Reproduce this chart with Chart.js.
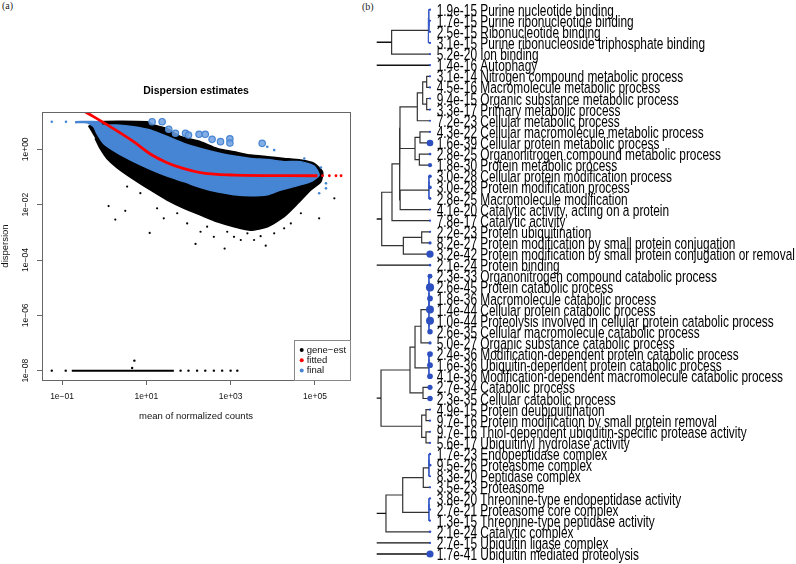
<!DOCTYPE html>
<html>
<head>
<meta charset="utf-8">
<script src="https://cdn.jsdelivr.net/npm/chart.js@4.4.0/dist/chart.umd.min.js"></script>
<style>
  html, body { margin: 0; padding: 0; background: #fff; }
  #wrap { position: relative; width: 796px; height: 564px; overflow: hidden; background: #fff; }
  #dispChart { position: absolute; left: 0; top: 0; }
  #dendroChart { position: absolute; left: 360px; top: 0; }
  .tag { position: absolute; font-family: "Liberation Serif", "Times New Roman", serif; font-size: 10px; color: #222; }
</style>
</head>
<body>
<div id="wrap">
  <div class="tag" style="left:2px;top:0px">(a)</div>
  <div class="tag" style="left:362px;top:1px">(b)</div>
  <canvas id="dispChart" width="360" height="430"></canvas>
  <canvas id="dendroChart" width="436" height="564"></canvas>
</div>
<script>
// ---------- (a) dispersion estimates ----------
const xTicks = [0.1, 10, 1000, 100000];
const xTickLabels = ['1e\u221201', '1e+01', '1e+03', '1e+05'];
const yTicks = [1e-8, 1e-6, 1e-4, 1e-2, 1];
const yTickLabels = ['1e\u221208', '1e\u221206', '1e\u221204', '1e\u221202', '1e+00'];

// outline of the dense black gene-est cloud: upper edge left->right, lower edge back
const geneCloudX = [0.42, 0.67, 10.4, 15, 31, 65, 193, 480, 1200, 3000, 7500, 18600, 46000, 96000, 152000,
  139000, 80000, 39000, 18600, 7500, 3000, 1200, 480, 193, 78, 31, 12.4, 5.0, 2.0, 1.16, 0.80, 0.61];
const geneCloudY = [6.6, 10, 10, 7.6, 5.7, 2.9, 1.89, 1.08, 0.82, 0.62, 0.54, 0.47, 0.41, 0.31, 0.155,
  0.068, 0.034, 0.011, 0.0037, 0.0016, 0.0012, 0.0016, 0.0024, 0.0042, 0.0074, 0.0147, 0.034, 0.082, 0.22, 0.47, 1.08, 2.5];

// loose black points below the cloud
const geneSpreadX = [1.27, 1.83, 3.16, 12, 25.9, 147, 720, 6800, 126000, 289000, 277, 400, 1200, 1740, 3600,
  5150, 10800, 18600, 26800, 46400, 54, 93, 193, 18, 7.2, 3.5, 2500, 830];
const geneSpreadY = [0.0089, 0.0029, 0.006, 0.00095, 0.0032, 0.00038, 0.00026, 0.00033, 0.0032, 0.017, 0.0016, 0.00069, 0.00069, 0.00053, 0.00053,
  0.00073, 0.00092, 0.0014, 0.0021, 0.0049, 0.0049, 0.0021, 0.00105, 0.0074, 0.026, 0.045, 0.00092, 0.00105];

// genes with zero dispersion, plotted at the floor
const floorLineX = [0.17, 45];
const floorY = 1e-8;
const floorPointX = [0.057, 0.122, 65, 100, 160, 250, 400, 630, 1000, 1440, 5.2, 4.6];
const floorPointY = [1e-8, 1e-8, 1e-8, 1e-8, 1e-8, 1e-8, 1e-8, 1e-8, 1e-8, 1e-8, 2.3e-8, 1.25e-8];

// outline of the blue final cloud
const finalCloudX = [0.204, 0.80, 0.88, 2.0, 5.0, 12.4, 31, 78, 193, 480, 1200, 3000, 7500, 18600, 46000, 96000, 126000,
  80000, 32000, 15500, 7500, 3000, 1200, 480, 193, 78, 31, 12.4, 5.0, 2.0, 0.96, 0.67, 0.56, 0.39, 0.204];
const finalCloudY = [10, 10, 7.6, 7.6, 6.6, 5.0, 2.9, 1.64, 1.08, 0.76, 0.57, 0.47, 0.43, 0.36, 0.36, 0.25, 0.118,
  0.068, 0.045, 0.034, 0.023, 0.021, 0.023, 0.029, 0.042, 0.068, 0.108, 0.19, 0.36, 0.76, 1.64, 3.8, 6.6, 9.2, 9.2];
const finalSpreadX = [0.057, 0.124, 80000, 139000, 183000, 183000, 126000, 32000, 56000, 10800, 7400];
const finalSpreadY = [10, 10, 0.178, 0.22, 0.059, 0.039, 0.026, 0.31, 0.47, 0.94, 1.24];
// dispersion outliers (large circles)
const outlierX = [13.7, 23.7, 34, 49, 85, 100, 178, 250, 363, 575, 960, 960, 5600];
const outlierY = [10, 10, 5.3, 3.8, 3.8, 3.3, 3.5, 3.5, 2.3, 1.9, 2.4, 1.7, 1.65];

// fitted trend
const fitX = [0.353, 1.39, 5.0, 12.4, 31, 78, 193, 480, 1200, 115000];
const fitY = [23, 6.6, 1.89, 0.68, 0.33, 0.2, 0.143, 0.124, 0.118, 0.111];
const fitTailX = [152000, 220000, 316000, 417000];
const fitTailY = 0.111;

const legendLabels = ['gene\u2212est', 'fitted', 'final'];
const legendColors = ['#000', '#ff0000', '#4685d3'];

const blue = '#4685d3';
const pts = (xs, ys) => xs.map((x, i) => ({ x, y: Array.isArray(ys) ? ys[i] : ys }));

Chart.defaults.font.family = '"Liberation Sans", Arial, Helvetica, sans-serif';
Chart.defaults.color = '#111';

const dispDecor = {
  id: 'dispDecor',
  afterDraw(chart) {
    const { ctx, chartArea: a, scales } = chart;
    ctx.save();
    ctx.strokeStyle = '#666';
    ctx.lineWidth = 1;
    ctx.strokeRect(a.left + 0.5, a.top + 0.5, a.right - a.left, a.bottom - a.top);

    // R style y tick labels, turned on their side
    ctx.fillStyle = '#111';
    ctx.font = '8.5px "Liberation Sans", Arial, sans-serif';
    ctx.textAlign = 'center';
    ctx.textBaseline = 'middle';
    yTicks.forEach((v, i) => {
      ctx.save();
      ctx.translate(a.left - 16, scales.y.getPixelForValue(v));
      ctx.rotate(-Math.PI / 2);
      ctx.fillText(yTickLabels[i], 0, 0);
      ctx.restore();
    });

    // legend in the bottom right corner
    const bx = a.right - 56, by = a.bottom - 40;
    ctx.strokeStyle = '#888';
    ctx.strokeRect(bx + 0.5, by + 0.5, 56, 40);
    ctx.textAlign = 'left';
    ctx.font = '9.5px "Liberation Sans", Arial, sans-serif';
    legendLabels.forEach((t, i) => {
      const yy = by + 10 + i * 10.3;
      ctx.fillStyle = legendColors[i];
      ctx.beginPath();
      ctx.arc(bx + 7.7, yy, 2, 0, Math.PI * 2);
      ctx.fill();
      ctx.fillStyle = '#111';
      ctx.fillText(t, bx + 12.7, yy);
    });
    ctx.restore();
  }
};

new Chart(document.getElementById('dispChart'), {
  type: 'scatter',
  data: {
    datasets: [
      { label: 'fitted', data: pts(fitX, fitY), showLine: true, borderColor: '#ff0000', borderWidth: 2.8,
        pointRadius: 0, cubicInterpolationMode: 'monotone' },
      { label: 'fitted tail', data: pts(fitTailX, fitTailY), pointRadius: 1.4, backgroundColor: '#ff0000', borderWidth: 0 },
      { label: 'outliers', data: pts(outlierX, outlierY), pointRadius: 3.2, backgroundColor: 'rgba(110,160,225,0.85)',
        borderColor: blue, borderWidth: 1.2 },
      { label: 'final spread', data: pts(finalSpreadX, finalSpreadY), pointRadius: 1.3, backgroundColor: blue, borderWidth: 0 },
      { label: 'final', data: pts(finalCloudX, finalCloudY), showLine: true, fill: 'shape', backgroundColor: blue,
        borderColor: blue, borderWidth: 1.5, pointRadius: 0, tension: 0.2 },
      { label: 'gene-est spread', data: pts(geneSpreadX, geneSpreadY), pointRadius: 1.1, backgroundColor: '#000', borderWidth: 0 },
      { label: 'floor', data: pts(floorLineX, floorY), showLine: true, borderColor: '#000', borderWidth: 2, pointRadius: 0 },
      { label: 'floor points', data: pts(floorPointX, floorPointY), pointRadius: 1.2, backgroundColor: '#000', borderWidth: 0 },
      { label: 'gene-est', data: pts(geneCloudX, geneCloudY), showLine: true, fill: 'shape', backgroundColor: '#000',
        borderColor: '#000', borderWidth: 1.5, pointRadius: 0, tension: 0.2 }
    ]
  },
  options: {
    responsive: false,
    animation: false,
    events: [],
    layout: { padding: { top: 0, right: 10, bottom: 0, left: 0 } },
    plugins: {
      legend: { display: false },
      tooltip: { enabled: false },
      title: {
        display: true, fullSize: false, text: 'Dispersion estimates', color: '#000',
        font: { size: 10.5, weight: 'bold' }, padding: { top: 85, bottom: 14.4 }
      }
    },
    scales: {
      x: {
        type: 'logarithmic', min: 0.0334, max: 680000,
        afterBuildTicks: s => { s.ticks = xTicks.map(v => ({ value: v })); },
        afterFit: s => { s.height = 50; },
        grid: { drawOnChartArea: false, drawTicks: true, tickLength: 5, color: '#666' },
        border: { display: false },
        ticks: { font: { size: 8.5 }, padding: 7, maxRotation: 0, autoSkip: false, callback: (v, i) => xTickLabels[i] },
        title: { display: true, text: 'mean of normalized counts', font: { size: 9.5 }, padding: { top: 0, bottom: 8 } }
      },
      y: {
        type: 'logarithmic', min: 4.6e-9, max: 22.4,
        afterBuildTicks: s => { s.ticks = yTicks.map(v => ({ value: v })); },
        afterFit: s => { s.width = 42; },
        grid: { drawOnChartArea: false, drawTicks: true, tickLength: 5, color: '#666' },
        border: { display: false },
        ticks: { display: false },
        title: { display: true, text: 'dispersion', font: { size: 9.5 }, padding: { top: 0, bottom: 0 } }
      }
    }
  },
  plugins: [dispDecor]
});

// ---------- (b) GO term dendrogram ----------
const goPvals = ['1.9e-15', '1.7e-15', '2.5e-15', '3.1e-15', '5.2e-20', '1.4e-16', '3.1e-14', '4.5e-16', '9.4e-15', '3.3e-17',
  '7.2e-23', '4.3e-22', '1.6e-39', '2.8e-25', '1.8e-30', '3.0e-28', '3.0e-28', '2.8e-25', '4.1e-20', '7.8e-17',
  '2.2e-23', '8.2e-27', '3.2e-42', '2.1e-24', '2.3e-33', '2.6e-45', '1.8e-36', '1.4e-44', '1.0e-44', '2.6e-35',
  '5.0e-27', '2.4e-36', '1.6e-36', '4.1e-36', '2.7e-34', '2.3e-35', '4.9e-15', '9.7e-16', '9.7e-16', '5.6e-17',
  '1.7e-23', '9.5e-26', '8.3e-20', '3.5e-23', '3.8e-20', '2.7e-21', '1.3e-15', '2.1e-24', '2.7e-15', '1.7e-41'];
const goTerms = ['Purine nucleotide binding', 'Purine ribonucleotide binding', 'Ribonucleotide binding',
  'Purine ribonucleoside triphosphate binding', 'Ion binding', 'Autophagy', 'Nitrogen compound metabolic process',
  'Macromolecule metabolic process', 'Organic substance metabolic process', 'Primary metabolic process',
  'Cellular metabolic process', 'Cellular macromolecule metabolic process', 'Cellular protein metabolic process',
  'Organonitrogen compound metabolic process', 'Protein metabolic process', 'Cellular protein modification process',
  'Protein modification process', 'Macromolecule modification', 'Catalytic activity, acting on a protein',
  'Catalytic activity', 'Protein ubiquitination', 'Protein modification by small protein conjugation',
  'Protein modification by small protein conjugation or removal', 'Protein binding',
  'Organonitrogen compound catabolic process', 'Protein catabolic process', 'Macromolecule catabolic process',
  'Cellular protein catabolic process', 'Proteolysis involved in cellular protein catabolic process',
  'Cellular macromolecule catabolic process', 'Organic substance catabolic process',
  'Modification-dependent protein catabolic process', 'Ubiquitin-dependent protein catabolic process',
  'Modification-dependent macromolecule catabolic process', 'Catabolic process', 'Cellular catabolic process',
  'Protein deubiquitination', 'Protein modification by small protein removal',
  'Thiol-dependent ubiquitin-specific protease activity', 'Ubiquitinyl hydrolase activity', 'Endopeptidase complex',
  'Proteasome complex', 'Peptidase complex', 'Proteasome', 'Threonine-type endopeptidase activity',
  'Proteasome core complex', 'Threonine-type peptidase activity', 'Catalytic complex', 'Ubiquitin ligase complex',
  'Ubiquitin mediated proteolysis'];

// merges as [height, left, right]; plain numbers are term rows
const groupA = [0.72, [0.03, [0.025, 1, [0.02, 2, 3]], 4], 5];
const groupB = [0.906,
  [0.713,
    [0.57,
      [0.563, [0.238, [0.137, [0.062, 7, 8], [0.062, 9, 10]], 11], [0.281, [0.188, 12, 13], [0.2, 14, 15]]],
      [0.56, [0.02, [0.02, 16, 17], 18], 19]],
    20],
  [0.5, [0.156, 21, 22], 23]];
const groupC = [0.919,
  [0.375,
    [0.281, [0.169, [0.02, [0.02, [0.02, 25, 26], [0.02, 27, 28]], [0.02, 29, 30]], 31], [0.02, [0.02, 32, 33], 34]],
    [0.131, 35, 36]],
  [0.156, [0.075, 37, 38], [0.075, 39, 40]]];
const groupD = [0.826, [0.512, [0.126, [0.02, [0.02, 41, 42], 43], 44], [0.02, [0.02, 45, 46], 47]], 48];
const topLevel = [groupA, 6, groupB, 24, groupC, groupD, 49, 50];
const rootHeight = 1.0;

const treeEdges = [], leafEdges = [], rootEdges = [];
function layoutNode(node) {
  if (typeof node === 'number') return { y: node, h: 0 };
  const [h, a, b] = node;
  const ca = layoutNode(a), cb = layoutNode(b);
  const out = h < 0.05 ? leafEdges : treeEdges;
  out.push({ x: ca.h, y: ca.y }, { x: h, y: ca.y }, { x: h, y: cb.y }, { x: cb.h, y: cb.y }, { x: null, y: null });
  return { y: (ca.y + cb.y) / 2, h };
}
topLevel.forEach(g => {
  const c = layoutNode(g);
  rootEdges.push({ x: rootHeight, y: c.y }, { x: c.h, y: c.y }, { x: null, y: null });
});

const leafDots = goPvals.map((p, i) => ({ x: 0, y: i + 1 }));
const dotRadius = goPvals.map(p => Math.max(1.1, (-Math.log10(parseFloat(p)) - 14) / 7.5));

const goLabels = {
  id: 'goLabels',
  afterDatasetsDraw(chart) {
    const { ctx, chartArea, scales } = chart;
    const fs = 14.5;
    ctx.save();
    ctx.fillStyle = '#000';
    ctx.font = fs + 'px "Liberation Sans", Arial, sans-serif';
    ctx.textBaseline = 'alphabetic';
    ctx.textAlign = 'left';
    goTerms.forEach((t, i) => {
      ctx.save();
      ctx.translate(chartArea.right + 6.7, scales.y.getPixelForValue(i + 1));
      ctx.scale(0.82, 1.17);
      ctx.fillText(goPvals[i] + ' ' + t, 0, 0.358 * fs);
      ctx.restore();
    });
    ctx.restore();
  }
};

new Chart(document.getElementById('dendroChart'), {
  type: 'scatter',
  data: {
    datasets: [
      { label: 'terms', data: leafDots, pointRadius: dotRadius, backgroundColor: '#2d4fc0', borderWidth: 0, clip: false },
      { label: 'root', data: rootEdges, showLine: true, borderColor: '#111', borderWidth: 1.4, pointRadius: 0, clip: false },
      { label: 'tree', data: treeEdges, showLine: true, borderColor: '#333', borderWidth: 1.2, pointRadius: 0, clip: false },
      { label: 'leaf merges', data: leafEdges, showLine: true, borderColor: '#3a5cc8', borderWidth: 1, pointRadius: 0, clip: false }
    ]
  },
  options: {
    responsive: false,
    animation: false,
    events: [],
    layout: { padding: { left: 16.7, right: 366, top: 1.42, bottom: 4.42 } },
    plugins: { legend: { display: false }, tooltip: { enabled: false } },
    scales: {
      x: { type: 'linear', min: 0, max: rootHeight, reverse: true, display: false },
      y: { type: 'linear', min: 0.5, max: 50.5, reverse: true, display: false }
    }
  },
  plugins: [goLabels]
});
</script>
</body>
</html>
